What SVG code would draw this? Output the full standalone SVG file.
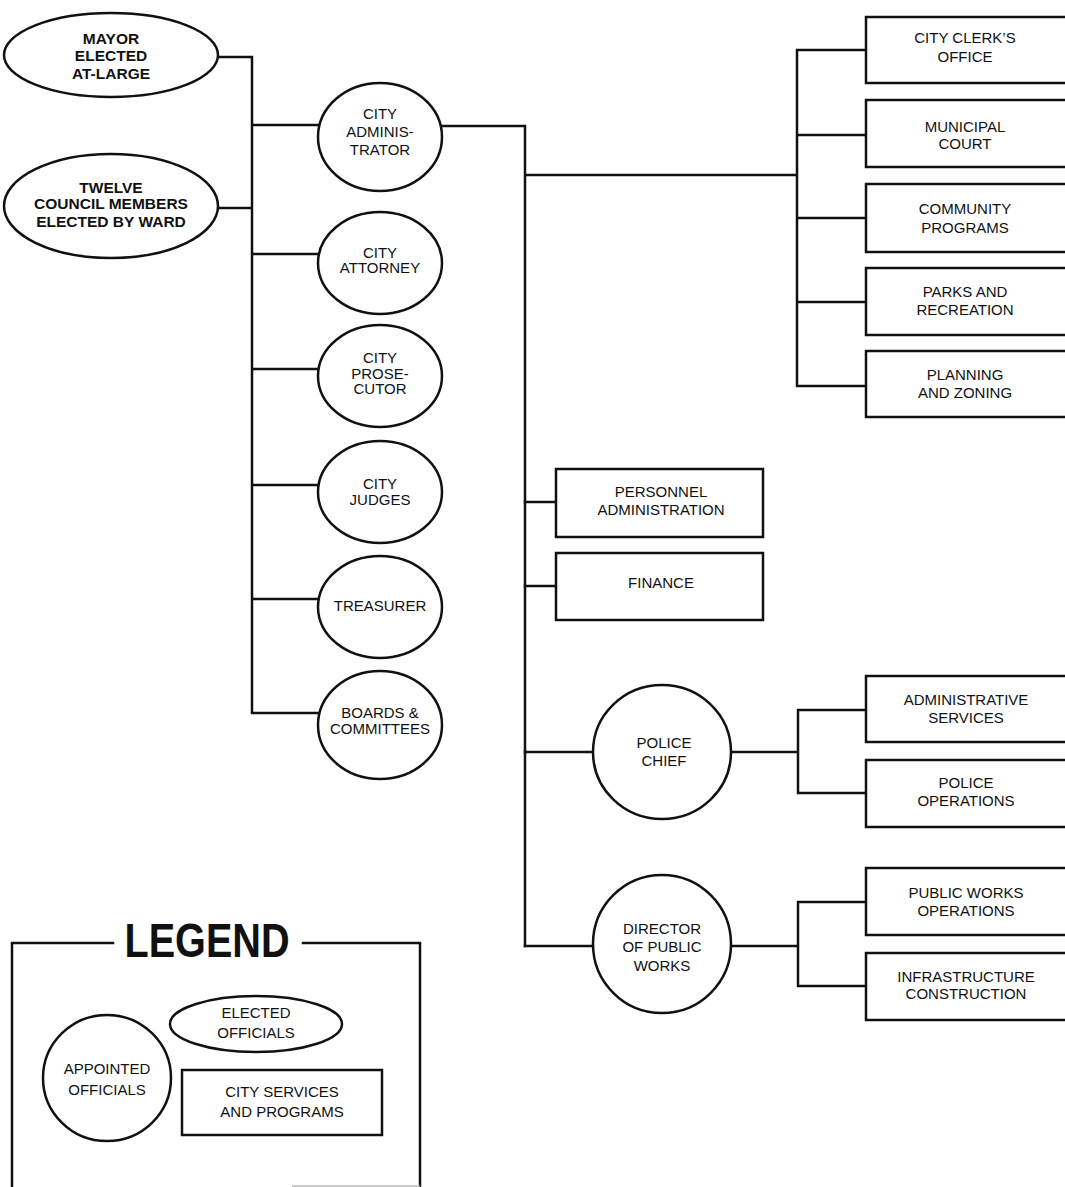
<svg xmlns="http://www.w3.org/2000/svg" width="1065" height="1187" viewBox="0 0 1065 1187">
<style>
.s{fill:#fff;stroke:#111;stroke-width:2.5}
.c{fill:none;stroke:#111;stroke-width:2.5;stroke-linecap:square}
text{font-family:"Liberation Sans",Arial,sans-serif;font-size:15px;fill:#111;text-anchor:middle}
.b{font-weight:bold;font-size:15.5px}
</style>
<rect width="1065" height="1187" fill="#fff"/>
<g id="connectors">
<path class="c" d="M218 57H252M218 208H252M252 57V713M252 125H318M252 254H318M252 369H318M252 485H318M252 599H318M252 713H318"/>
<path class="c" d="M442 126H525V946M525 175H797M797 50V386M797 50H866M797 135H866M797 218H866M797 302H866M797 386H866"/>
<path class="c" d="M525 502H556M525 586H556M525 752H593M525 946H593"/>
<path class="c" d="M731 752H798M798 710V793M798 710H866M798 793H866"/>
<path class="c" d="M732 946H798M798 902V986M798 902H866M798 986H866"/>
</g>
<g id="mayor"><ellipse class="s" cx="111" cy="55" rx="107" ry="42"/><text class="b" x="111" y="44">MAYOR</text><text class="b" x="111" y="61">ELECTED</text><text class="b" x="111" y="79">AT-LARGE</text></g>
<g id="council"><ellipse class="s" cx="111" cy="206" rx="107" ry="52"/><text class="b" x="111" y="193">TWELVE</text><text class="b" x="111" y="209">COUNCIL MEMBERS</text><text class="b" x="111" y="227">ELECTED BY WARD</text></g>
<g id="city-administrator"><ellipse class="s" cx="380" cy="137" rx="62" ry="54"/><text x="380" y="119">CITY</text><text x="380" y="137">ADMINIS-</text><text x="380" y="155">TRATOR</text></g>
<g id="city-attorney"><ellipse class="s" cx="380" cy="263" rx="62" ry="51"/><text x="380" y="258">CITY</text><text x="380" y="273">ATTORNEY</text></g>
<g id="city-prosecutor"><ellipse class="s" cx="380" cy="376" rx="62" ry="51"/><text x="380" y="363">CITY</text><text x="380" y="379">PROSE-</text><text x="380" y="394">CUTOR</text></g>
<g id="city-judges"><ellipse class="s" cx="380" cy="492" rx="62" ry="51"/><text x="380" y="489">CITY</text><text x="380" y="505">JUDGES</text></g>
<g id="treasurer"><ellipse class="s" cx="380" cy="607" rx="62" ry="51"/><text x="380" y="611">TREASURER</text></g>
<g id="boards"><ellipse class="s" cx="380" cy="725" rx="62" ry="54"/><text x="380" y="718">BOARDS &amp;</text><text x="380" y="734">COMMITTEES</text></g>
<g id="city-clerk"><rect class="s" x="866" y="17" width="210" height="66"/><text x="965" y="43">CITY CLERK’S</text><text x="965" y="62">OFFICE</text></g>
<g id="municipal-court"><rect class="s" x="866" y="100" width="210" height="67"/><text x="965" y="132">MUNICIPAL</text><text x="965" y="149">COURT</text></g>
<g id="community-programs"><rect class="s" x="866" y="184" width="210" height="68"/><text x="965" y="214">COMMUNITY</text><text x="965" y="233">PROGRAMS</text></g>
<g id="parks"><rect class="s" x="866" y="268" width="210" height="67"/><text x="965" y="297">PARKS AND</text><text x="965" y="315">RECREATION</text></g>
<g id="planning"><rect class="s" x="866" y="351" width="210" height="66"/><text x="965" y="380">PLANNING</text><text x="965" y="398">AND ZONING</text></g>
<g id="personnel"><rect class="s" x="556" y="469" width="207" height="68"/><text x="661" y="497">PERSONNEL</text><text x="661" y="515">ADMINISTRATION</text></g>
<g id="finance"><rect class="s" x="556" y="553" width="207" height="67"/><text x="661" y="588">FINANCE</text></g>
<g id="police-chief"><ellipse class="s" cx="662" cy="752" rx="69" ry="67"/><text x="664" y="748">POLICE</text><text x="664" y="766">CHIEF</text></g>
<g id="admin-services"><rect class="s" x="866" y="676" width="210" height="66"/><text x="966" y="705">ADMINISTRATIVE</text><text x="966" y="723">SERVICES</text></g>
<g id="police-operations"><rect class="s" x="866" y="760" width="210" height="67"/><text x="966" y="788">POLICE</text><text x="966" y="806">OPERATIONS</text></g>
<g id="director-public-works"><ellipse class="s" cx="662" cy="944" rx="69" ry="69"/><text x="662" y="934">DIRECTOR</text><text x="662" y="952">OF PUBLIC</text><text x="662" y="971">WORKS</text></g>
<g id="pw-operations"><rect class="s" x="866" y="868" width="210" height="67"/><text x="966" y="898">PUBLIC WORKS</text><text x="966" y="916">OPERATIONS</text></g>
<g id="infrastructure"><rect class="s" x="866" y="953" width="210" height="67"/><text x="966" y="982">INFRASTRUCTURE</text><text x="966" y="999">CONSTRUCTION</text></g>
<g id="legend">
<path class="c" d="M113 943H12V1190M303 943H420V1190"/>
<path d="M292 1186H420" stroke="#bbb" stroke-width="1.5" fill="none"/>
<text x="207" y="957" style="font-weight:bold;font-size:48px" textLength="165" lengthAdjust="spacingAndGlyphs">LEGEND</text>
<ellipse class="s" cx="256" cy="1024" rx="86" ry="28"/><text x="256" y="1018">ELECTED</text><text x="256" y="1038">OFFICIALS</text>
<ellipse class="s" cx="107" cy="1078" rx="64" ry="63"/><text x="107" y="1074">APPOINTED</text><text x="107" y="1095">OFFICIALS</text>
<rect class="s" x="182" y="1070" width="200" height="65"/><text x="282" y="1097">CITY SERVICES</text><text x="282" y="1117">AND PROGRAMS</text>
</g>
</svg>
